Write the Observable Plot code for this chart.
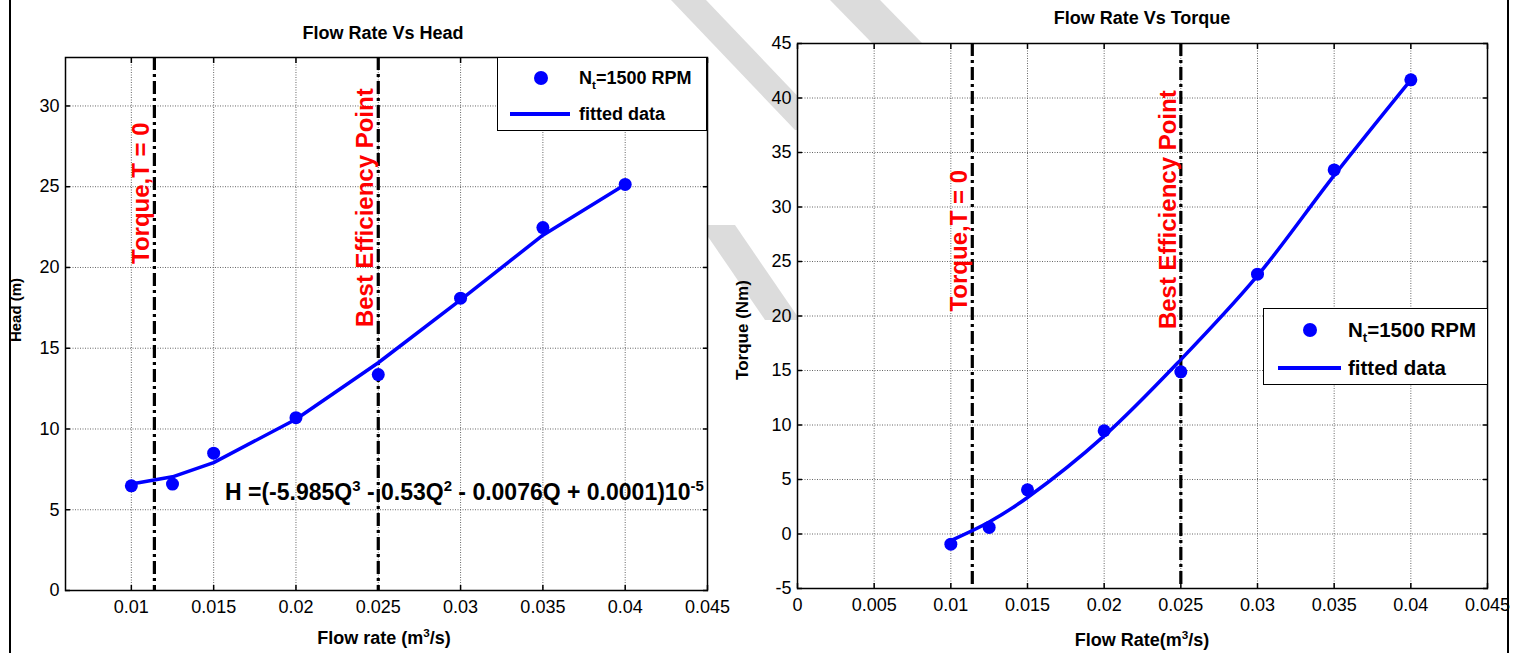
<!DOCTYPE html>
<html><head><meta charset="utf-8">
<script src="https://cdn.jsdelivr.net/npm/d3@7"></script>
<script src="https://cdn.jsdelivr.net/npm/@observablehq/plot@0.6"></script>
<style>
body{margin:0;background:#fff;}
#fig{position:relative;width:1513px;height:653px;overflow:hidden;font-family:"Liberation Sans",Arial,sans-serif;color:#000;}
.abs{position:absolute;white-space:nowrap;line-height:1;}
.c{transform:translate(-50%,-50%);}
.legend{position:absolute;border:1.5px solid #000;background:#fff;box-sizing:border-box;font-weight:bold;}
sup,sub{font-size:65%;line-height:0;}
</style></head><body><div id="fig"></div>
<script>
// ---- data ----
const flow = [0.01, 0.0125, 0.015, 0.02, 0.025, 0.03, 0.035, 0.04];
const headMeasured = [6.48, 6.59, 8.5, 10.7, 13.37, 18.1, 22.47, 25.14];
const headFitted = [6.59, 7.04, 7.92, 10.6, 14.1, 18.0, 22.0, 25.14];
const torqueMeasured = [-0.93, 0.6, 4.05, 9.47, 14.88, 23.84, 33.4, 41.67];
const torqueFitted = [-0.6, 1.1, 3.35, 9.0, 16.0, 23.7, 32.9, 41.67];
const markerFlows = [0.0114, 0.025];
const markerLabels = ["Torque,T = 0", "Best Efficiency Point"];
const headXTicks = [0.01, 0.015, 0.02, 0.025, 0.03, 0.035, 0.04, 0.045];
const headYTicks = [0, 5, 10, 15, 20, 25, 30];
const torqueXTicks = [0, 0.005, 0.01, 0.015, 0.02, 0.025, 0.03, 0.035, 0.04, 0.045];
const torqueYTicks = [-5, 0, 5, 10, 15, 20, 25, 30, 35, 40, 45];

const head = flow.map((q, i) => ({q, measured: headMeasured[i], fitted: headFitted[i]}));
const torque = flow.map((q, i) => ({q, measured: torqueMeasured[i], fitted: torqueFitted[i]}));
const markers = markerFlows.map((q, i) => ({q, label: markerLabels[i]}));

const FONT = '"Liberation Sans", Arial, sans-serif';
const fig = document.getElementById("fig");

function panel({width, height, margins, xDomain, yDomain, xTicks, yTicks, data, curve, labelY}) {
  return Plot.plot({
    width, height, ...margins,
    x: {domain: xDomain, label: null},
    y: {domain: yDomain, label: null},
    style: {fontFamily: FONT, fontSize: "18px", color: "#000", background: "transparent", overflow: "visible"},
    marks: [
      Plot.frame({fill: "#fff", stroke: "none"}),
      Plot.gridX(xTicks, {stroke: "#666", strokeOpacity: 1, strokeDasharray: "1 1.5", strokeWidth: 1}),
      Plot.gridY(yTicks, {stroke: "#666", strokeOpacity: 1, strokeDasharray: "1 1.5", strokeWidth: 1}),
      Plot.axisX(xTicks, {anchor: "bottom", tickSize: 0, tickPadding: 10, tickFormat: d => String(d), label: null, fontSize: 18}),
      Plot.axisY(yTicks, {anchor: "left", tickSize: 0, tickPadding: 6, tickFormat: d => String(d), label: null, fontSize: 18}),
      Plot.axisX(xTicks, {anchor: "bottom", tickSize: -5, tickFormat: () => "", label: null, strokeWidth: 1.5}),
      Plot.axisX(xTicks, {anchor: "top", tickSize: -5, tickFormat: () => "", label: null, strokeWidth: 1.5}),
      Plot.axisY(yTicks, {anchor: "left", tickSize: -5, tickFormat: () => "", label: null, strokeWidth: 1.5}),
      Plot.axisY(yTicks, {anchor: "right", tickSize: -5, tickFormat: () => "", label: null, strokeWidth: 1.5}),
      Plot.ruleX(markers, {x: "q", stroke: "#000", strokeWidth: 3.2, strokeDasharray: "13 4 3 4"}),
      Plot.text(markers, {x: "q", y: (d, i) => labelY[i], text: "label", rotate: -90, dx: -13,
        fill: "#ff0000", fontWeight: "bold", fontSize: 24, fontFamily: FONT}),
      Plot.line(data, {x: "q", y: "fitted", stroke: "#0000ff", strokeWidth: 3.5, curve}),
      Plot.dot(data, {x: "q", y: "measured", r: 6.5, fill: "#0000ff", stroke: "none"}),
      Plot.frame({stroke: "#000", strokeWidth: 1.5})
    ]
  });
}

// watermark (light grey diagonal bands, visible only outside the axes)
const wm = document.createElementNS("http://www.w3.org/2000/svg", "svg");
wm.setAttribute("width", 1513); wm.setAttribute("height", 653);
wm.style.cssText = "position:absolute;left:0;top:0;";
wm.innerHTML = `<g fill="#dcdcdc">
  <polygon points="671,0 706,0 830,130 795,130"/>
  <polygon points="830,0 880,0 922,43 872,43"/>
  <polygon points="700,225 735,225 800,320 765,320"/>
</g>`;
fig.appendChild(wm);

const left = panel({
  width: 756, height: 653,
  margins: {marginLeft: 65, marginRight: 49, marginTop: 57, marginBottom: 63},
  xDomain: [0.006, 0.045], yDomain: [0, 33],
  xTicks: headXTicks, yTicks: headYTicks, data: head, curve: "linear",
  labelY: [24.6, 23.7]
});
left.style.position = "absolute"; left.style.left = "0px"; left.style.top = "0px";
fig.appendChild(left);

const right = panel({
  width: 757, height: 653,
  margins: {marginLeft: 41, marginRight: 26, marginTop: 43, marginBottom: 65},
  xDomain: [0, 0.045], yDomain: [-5, 45],
  xTicks: torqueXTicks, yTicks: torqueYTicks, data: torque, curve: "catmull-rom",
  labelY: [26.9, 29.75]
});
right.style.position = "absolute"; right.style.left = "756px"; right.style.top = "0px";
fig.appendChild(right);

function txt(html, x, y, css = "", cls = "abs c") {
  const d = document.createElement("div");
  d.className = cls; d.innerHTML = html;
  d.style.cssText = `left:${x}px;top:${y}px;${css}`;
  fig.appendChild(d);
  return d;
}
// titles
txt("Flow Rate Vs Head", 383, 33, "font-size:18px;font-weight:bold;");
txt("Flow Rate Vs Torque", 1142, 18, "font-size:18px;font-weight:bold;");
// axis labels
txt("Flow rate (m<sup>3</sup>/s)", 384, 638, "font-size:18px;font-weight:bold;");
txt("Flow Rate(m<sup>3</sup>/s)", 1142, 640, "font-size:18px;font-weight:bold;");
txt("Head (m)", 15, 310, "font-size:15px;font-weight:bold;transform:translate(-50%,-50%) rotate(-90deg);");
txt("Torque (Nm)", 742, 330, "font-size:17px;font-weight:bold;transform:translate(-50%,-50%) rotate(-90deg);");
// equation
txt("H =(-5.985Q<sup>3</sup> - 0.53Q<sup>2</sup> - 0.0076Q + 0.0001)10<sup>-5</sup>", 225, 481, "font-size:23px;font-weight:bold;", "abs");

// legends
function legend(x, y, w, h, fs, dotX, textX, lineX0, lineX1) {
  const d = document.createElement("div");
  d.className = "legend";
  d.style.cssText = `left:${x}px;top:${y}px;width:${w}px;height:${h}px;font-size:${fs}px;`;
  d.innerHTML = `
  <div class="abs" style="left:${dotX-7}px;top:${h*0.27-7}px;width:14px;height:14px;border-radius:50%;background:#0000ff"></div>
  <div class="abs" style="left:${textX}px;top:${h*0.27}px;transform:translateY(-50%)">N<sub>t</sub>=1500 RPM</div>
  <div class="abs" style="left:${lineX0}px;top:${h*0.76-2}px;width:${lineX1-lineX0}px;height:4px;background:#0000ff"></div>
  <div class="abs" style="left:${textX}px;top:${h*0.76}px;transform:translateY(-50%)">fitted data</div>`;
  fig.appendChild(d);
}
legend(497, 57, 210, 74, 18, 43, 81, 12, 72);
legend(1263, 308, 225, 77, 20.5, 46, 84, 14, 77);

// figure border lines
const bl = document.createElement("div");
bl.style.cssText = "position:absolute;left:9px;top:0;width:2px;height:653px;background:#000";
fig.appendChild(bl);
const br = document.createElement("div");
br.style.cssText = "position:absolute;left:1507px;top:0;width:2px;height:653px;background:#000";
fig.appendChild(br);
</script></body></html>
